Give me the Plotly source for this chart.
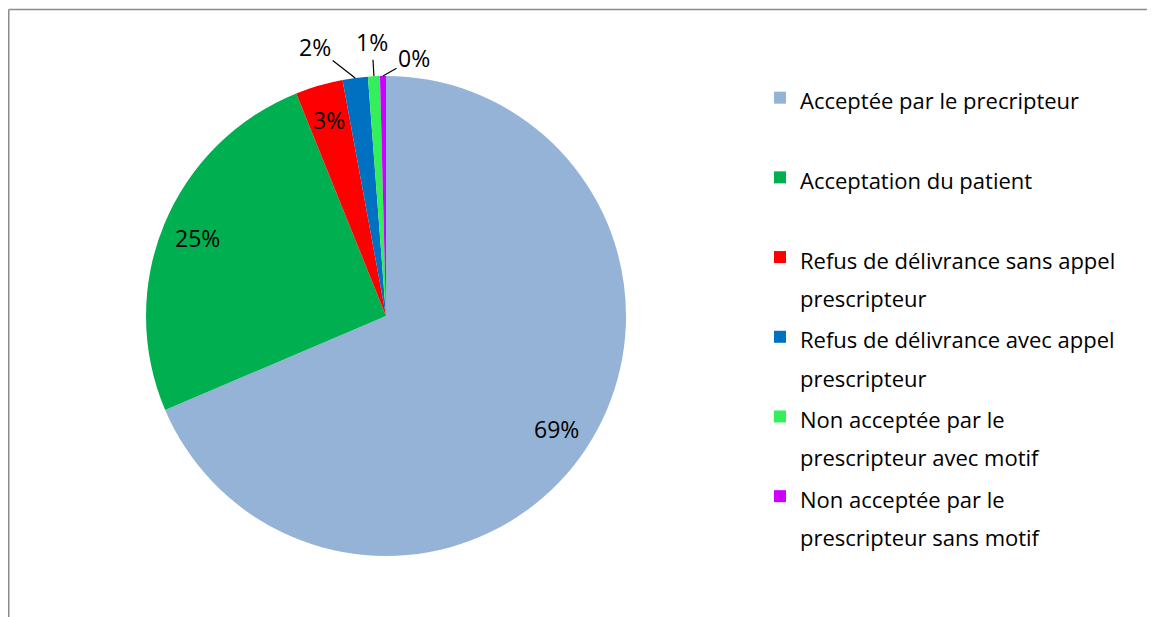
import math
import plotly.graph_objects as go

W, H = 1155, 617

legend_lines = [
    ["Acceptée par le precripteur", " "],
    ["Acceptation du patient", " "],
    ["Refus de délivrance sans appel", "prescripteur"],
    ["Refus de délivrance avec appel", "prescripteur"],
    ["Non acceptée par le", "prescripteur avec motif"],
    ["Non acceptée par le", "prescripteur sans motif"],
]
values = [68.6, 25.3, 3.2, 1.7, 0.8, 0.4]
colors = ["#95B3D7", "#00B050", "#FF0000", "#0070C0", "#33F05A", "#CC00FF"]

FONT = "Open Sans, sans-serif"
LEG_SPAN = '<span style="font-size:22px">{}</span>'
legend_labels = ["<br>".join(LEG_SPAN.format(s) for s in lines) for lines in legend_lines]

# pie geometry (pixels, figure coordinates)
CX, CY, R = 378, 308, 240
fig = go.Figure(
    go.Pie(
        labels=legend_labels,
        values=values,
        sort=False,
        direction="clockwise",
        rotation=0,
        marker=dict(colors=colors, line=dict(width=0)),
        textinfo="none",
        domain=dict(x=[(CX - R) / W, (CX + R) / W],
                    y=[1 - (CY + R) / H, 1 - (CY - R) / H]),
        hoverinfo="skip",
    )
)

# percentage labels placed from the values' own angles
total = sum(values)
annotations = []
cum = 0.0
outside_offsets = {3: (-40, -31), 4: (-2, -34), 5: (31, -18)}
LABEL_FONT = dict(size=23, family=FONT, color="black")
for i, v in enumerate(values):
    mid = (cum + v / 2) / total * 2 * math.pi
    cum += v
    txt = f"{round(v / total * 100)}%"
    if i in outside_offsets:
        px = CX + R * math.sin(mid)
        py = CY - R * math.cos(mid)
        ax, ay = outside_offsets[i]
        annotations.append(dict(
            x=px / W, y=1 - py / H, xref="paper", yref="paper",
            text=txt, showarrow=True, arrowhead=0, arrowwidth=1.2,
            arrowcolor="black", ax=ax, ay=ay, standoff=0,
            font=LABEL_FONT,
        ))
    else:
        px = CX + 0.85 * R * math.sin(mid)
        py = CY - 0.85 * R * math.cos(mid)
        annotations.append(dict(
            x=px / W, y=1 - py / H, xref="paper", yref="paper",
            xanchor="center", yanchor="middle",
            text=txt, showarrow=False, font=LABEL_FONT,
        ))

fig.update_layout(
    width=W,
    height=H,
    margin=dict(l=0, r=0, t=0, b=0),
    paper_bgcolor="white",
    plot_bgcolor="white",
    font=dict(family=FONT, size=20, color="black"),
    annotations=annotations,
    legend=dict(
        x=752 / W,
        y=1 - 64 / H,
        xanchor="left",
        yanchor="top",
        valign="top",
        font=dict(size=29.5, family=FONT, color="black"),
        itemclick=False,
    ),
    shapes=[
        dict(type="line", xref="paper", yref="paper", x0=0.75 / W, x1=0.75 / W,
             y0=0, y1=1 - 1.5 / H, line=dict(color="#8C8C8C", width=1.5)),
        dict(type="line", xref="paper", yref="paper", x0=0.75 / W, x1=1,
             y0=1 - 1.5 / H, y1=1 - 1.5 / H, line=dict(color="#8C8C8C", width=1.5)),
    ],
)

fig.write_html("out.html")
